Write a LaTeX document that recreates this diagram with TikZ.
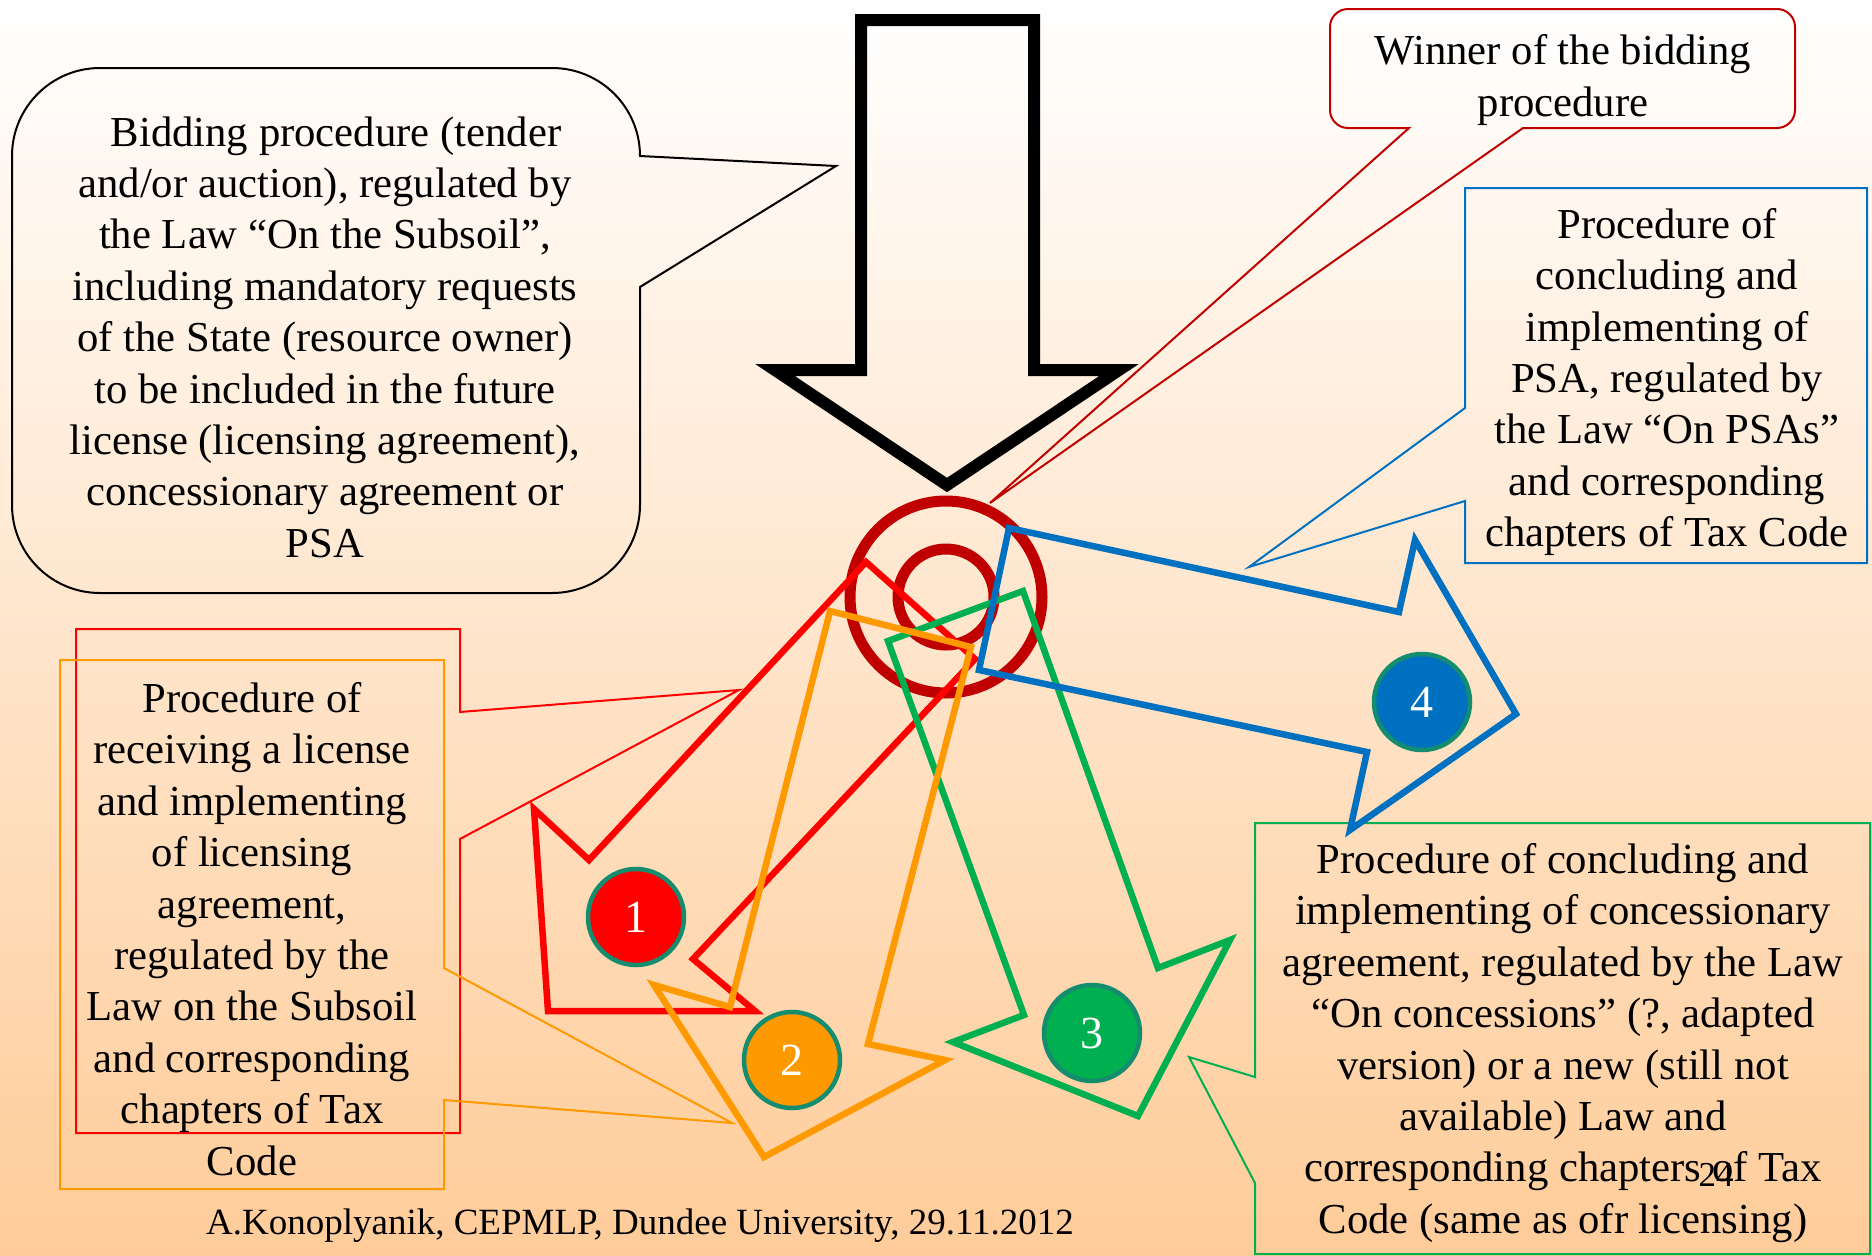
\documentclass[tikz,border=0pt]{standalone}
\usepackage{fontspec}
\setmainfont{Liberation Serif}
\definecolor{bgb}{RGB}{255,204,153}
\definecolor{dred}{RGB}{192,0,0}
\definecolor{ored}{RGB}{255,0,0}
\definecolor{oorange}{RGB}{255,153,0}
\definecolor{ogreen}{RGB}{0,176,80}
\definecolor{oblue}{RGB}{0,112,192}
\definecolor{tealb}{RGB}{20,140,110}
\begin{document}
\begin{tikzpicture}[x=1pt,y=-1pt,line join=miter,
  txt/.style={font=\fontsize{42.7}{51.4}\selectfont, align=center, inner sep=0pt},
  blockarrow/.style={line width=6.5pt, line join=miter},
  ring/.style={draw=dred, line width=11pt},
  num/.style={circle, draw=tealb, line width=4.5pt, minimum size=96pt, inner sep=0pt, text=white, font=\fontsize{46}{46}\selectfont},
  callout/.style={line width=2pt, line join=miter}]

\useasboundingbox (0,0) rectangle (1872,1256);
\shade[top color=white, bottom color=bgb] (0,0) rectangle (1872,1256);

% callout: bidding procedure
\draw[callout, draw=black] (640,287) -- (640,505) arc[start angle=0,end angle=90,radius=88]
  -- (100,593) arc[start angle=90,end angle=180,radius=88]
  -- (12,156) arc[start angle=180,end angle=270,radius=88]
  -- (552,68) arc[start angle=270,end angle=360,radius=88]
  -- (836,166) -- cycle;

% callout: winner
\draw[callout, draw=dred] (1409,128) -- (990,503) -- (1523,128) -- (1777,128)
  arc[start angle=90,end angle=0,radius=18] -- (1795,27)
  arc[start angle=0,end angle=-90,radius=18] -- (1348,9)
  arc[start angle=-90,end angle=-180,radius=18] -- (1330,110)
  arc[start angle=180,end angle=90,radius=18] -- cycle;

% callout: PSA
\draw[callout, draw=oblue] (1465,188) -- (1867,188) -- (1867,563) -- (1465,563) -- (1465,501) -- (1249,567) -- (1465,408) -- cycle;

% callout: licence (red) and (orange)
\draw[callout, draw=ored] (76,629) -- (460,629) -- (460,712) -- (739,690) -- (460,839) -- (460,1133) -- (76,1133) -- cycle;
\draw[callout, draw=oorange] (60,660) -- (444,660) -- (444,968) -- (732,1123) -- (444,1100) -- (444,1189) -- (60,1189) -- cycle;

% callout: concession (green)
\draw[callout, draw=ogreen] (1255,823) -- (1870,823) -- (1870,1254) -- (1255,1254) -- (1255,1183) -- (1189,1057) -- (1255,1077) -- cycle;

% big black arrow
\draw[line width=12pt] (861,20) -- (1034,20) -- (1034,370) -- (1119,370) -- (947,485) -- (775,370) -- (861,370) -- cycle;

% rings
\draw[ring] (946,597) circle[radius=96];
\draw[ring] (946,597) circle[radius=48];

% coloured block arrows
\draw[blockarrow, draw=ored] (866,562) -- (589,860) -- (534,809) -- (548,1011) -- (755,1011) -- (693,959) -- (975,659) -- cycle;
\draw[blockarrow, draw=ogreen] (888,641) -- (1024,1015) -- (953,1042) -- (1138,1116) -- (1230,940) -- (1158,968) -- (1023,591) -- cycle;
\draw[blockarrow, draw=oorange] (830,611) -- (971,647) -- (868,1044) -- (945,1060) -- (764,1157) -- (654,985) -- (730,1007) -- cycle;
\draw[blockarrow, draw=oblue] (1009,528) -- (1399,612) -- (1415,540) -- (1516,714) -- (1350,830) -- (1367,752) -- (979,670) -- cycle;

% numbered circles
\node[num, fill=ored] (n1) at (636,917) {1};
\node[num, fill=oorange] (n2) at (792,1060) {2};
\node[num, fill=ogreen] (n3) at (1092,1033) {3};
\node[num, fill=oblue] (n4) at (1422,702) {4};

% texts
\node[txt] (bid) at (325,337) {\hspace*{22pt}Bidding procedure (tender\\and/or auction), regulated by\\the Law “On the Subsoil”,\\including mandatory requests\\of the State (resource owner)\\to be included in the future\\license (licensing agreement),\\concessionary agreement or\\PSA};
\node[txt] (win) at (1563,80) {Winner of the bidding\\procedure};
\node[txt] (psa) at (1667,382) {Procedure of\\concluding and\\implementing of\\PSA, regulated by\\the Law “On PSAs”\\and corresponding\\chapters of Tax Code};
\node[txt] (lic) at (252,929) {Procedure of\\receiving a license\\and implementing\\of licensing\\agreement,\\regulated by the\\Law on the Subsoil\\and corresponding\\chapters of Tax\\Code};
\node[txt] (con) at (1563,1043) {Procedure of concluding and\\implementing of concessionary\\agreement, regulated by the Law\\“On concessions” (?, adapted\\version) or a new (still not\\available) Law and\\corresponding chapters of Tax\\Code (same as ofr licensing)};
\node[inner sep=0pt, font=\fontsize{35}{35}\selectfont] (pg) at (1716,1175) {24};
\node[inner sep=0pt, font=\fontsize{37}{40}\selectfont] (foot) at (640,1226) {A.Konoplyanik, CEPMLP, Dundee University, 29.11.2012};
\end{tikzpicture}
\end{document}
